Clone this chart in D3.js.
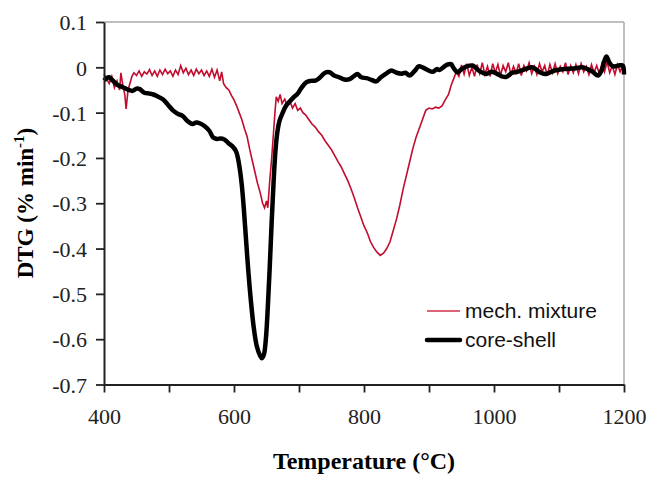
<!DOCTYPE html>
<html>
<head>
<meta charset="utf-8">
<script src="https://cdn.jsdelivr.net/npm/d3@7"></script>
<style>
  body { margin: 0; background: #fff; }
  svg { display: block; }
</style>
</head>
<body>
<svg id="chart" width="650" height="477"></svg>
<script>
// tick values
var xTicks = [400, 500, 600, 700, 800, 900, 1000, 1100, 1200];
var xLabels = [400, 600, 800, 1000, 1200];
var yTicks = [0.1, 0, -0.1, -0.2, -0.3, -0.4, -0.5, -0.6, -0.7];

// mech. mixture (thin red, noisy)
var mixTemp = [400,404,408,412,416,420,424,426,429,432,434,437,440,443,446,450,454,458,462,466,
  470,474,478,482,486,490,494,498,502,506,510,514,518,522,526,530,534,538,542,546,
  550,554,558,562,566,570,574,578,581,584,588,592,596,600,604,608,612,616,620,624,
  628,632,636,640,644,647,650,652,655,658,661,663,665,668,671,674,678,682,686,690,
  694,698,702,706,710,715,720,725,730,735,740,745,750,755,760,765,770,775,780,785,
  790,795,800,805,810,815,820,825,830,835,840,845,850,855,860,865,870,875,880,885,
  890,895,900,905,910,915,920,925,930,934,938,942,946,950,954,958,962,966,970,974,
  978,982,986,990,994,998,1002,1006,1010,1014,1018,1022,1026,1030,1034,1038,1042,1046,1050,1054,
  1058,1062,1066,1070,1074,1078,1082,1086,1090,1094,1098,1102,1106,1110,1114,1118,1122,1126,1130,1134,
  1138,1142,1146,1150,1154,1158,1162,1166,1170,1174,1178,1182,1186,1190,1194,1198,1200];
var mixDtg = [-0.015,-0.025,-0.036,-0.02,-0.045,-0.03,-0.05,-0.012,-0.04,-0.06,-0.092,-0.05,-0.035,-0.02,-0.012,-0.018,-0.008,-0.02,-0.01,-0.015,
  -0.005,-0.018,-0.008,-0.02,-0.006,-0.016,-0.004,-0.014,-0.008,-0.02,-0.006,-0.016,0.004,-0.012,-0.002,-0.016,-0.006,-0.018,-0.004,-0.014,
  -0.006,-0.018,-0.008,-0.02,-0.004,-0.022,-0.006,-0.03,-0.01,-0.036,-0.045,-0.05,-0.062,-0.072,-0.085,-0.1,-0.115,-0.135,-0.152,-0.18,
  -0.205,-0.23,-0.255,-0.275,-0.3,-0.31,-0.295,-0.31,-0.25,-0.2,-0.14,-0.1,-0.065,-0.075,-0.06,-0.08,-0.07,-0.085,-0.075,-0.09,
  -0.08,-0.095,-0.09,-0.1,-0.105,-0.115,-0.125,-0.132,-0.142,-0.15,-0.162,-0.172,-0.182,-0.195,-0.208,-0.22,-0.235,-0.25,-0.268,-0.288,
  -0.31,-0.33,-0.35,-0.365,-0.385,-0.398,-0.408,-0.415,-0.41,-0.4,-0.385,-0.36,-0.335,-0.305,-0.27,-0.24,-0.21,-0.18,-0.155,-0.135,
  -0.115,-0.095,-0.09,-0.092,-0.088,-0.09,-0.085,-0.072,-0.06,-0.04,-0.025,-0.01,-0.02,0.005,-0.015,0.008,-0.018,0.0,-0.02,0.006,
  -0.014,0.01,-0.016,0.002,-0.02,0.008,-0.012,0.006,-0.018,0.004,-0.01,0.01,-0.016,0.002,-0.012,0.008,-0.018,0.004,-0.008,0.01,
  -0.014,0.002,-0.016,0.008,-0.01,0.004,-0.018,0.006,-0.012,0.008,-0.014,0.002,-0.01,0.01,-0.016,0.004,-0.012,0.006,-0.014,0.008,
  -0.01,0.002,-0.016,0.006,-0.012,0.004,-0.014,0.008,-0.01,0.012,-0.012,0.004,-0.016,0.006,-0.01,0.004,-0.006];

// core-shell (thick black)
var csTemp = [400,404,408,414,420,426,432,438,444,450,455,462,470,476,482,490,498,506,514,521,
  528,536,542,548,555,562,568,574,580,586,592,598,603,606,609,612,615,618,621,625,
  630,635,640,643,646,649,652,655,658,661,664,667,670,675,680,686,692,698,704,711,
  718,726,734,740,747,754,762,770,778,784,790,796,804,812,819,826,834,842,850,858,
  864,870,878,884,890,898,906,912,916,922,928,934,938,944,950,958,967,974,980,988,
  996,1004,1012,1019,1028,1036,1044,1052,1059,1066,1072,1080,1088,1096,1106,1116,1126,1136,1144,1152,
  1160,1166,1170,1173,1177,1181,1186,1192,1198,1200];
var csDtg = [-0.029,-0.024,-0.022,-0.03,-0.038,-0.042,-0.046,-0.05,-0.052,-0.047,-0.048,-0.056,-0.058,-0.06,-0.064,-0.07,-0.082,-0.095,-0.103,-0.107,
  -0.118,-0.125,-0.122,-0.124,-0.13,-0.14,-0.155,-0.158,-0.157,-0.16,-0.168,-0.175,-0.185,-0.2,-0.225,-0.26,-0.31,-0.37,-0.43,-0.5,
  -0.57,-0.615,-0.636,-0.642,-0.634,-0.6,-0.53,-0.44,-0.34,-0.25,-0.18,-0.14,-0.118,-0.1,-0.085,-0.075,-0.066,-0.058,-0.045,-0.033,
  -0.03,-0.029,-0.02,-0.012,-0.011,-0.018,-0.022,-0.027,-0.026,-0.02,-0.015,-0.022,-0.024,-0.028,-0.031,-0.022,-0.014,-0.007,-0.012,-0.014,
  -0.012,-0.018,-0.008,0.002,0.0,-0.006,-0.01,-0.004,-0.006,0.0,0.006,0.007,-0.002,-0.011,-0.004,0.002,0.004,-0.004,-0.01,-0.015,
  -0.01,-0.014,-0.02,-0.021,-0.012,-0.01,-0.006,-0.002,0.0,-0.006,-0.012,-0.015,-0.01,-0.006,-0.004,-0.003,-0.002,0.0,-0.004,-0.01,
  -0.018,-0.005,0.015,0.024,0.012,0.004,0.002,0.004,0.004,-0.016];

var width = 650, height = 477;
var plotLeft = 104, plotRight = 624, plotTop = 22, plotBottom = 384.5;

var svg = d3.select('#chart');

var x = d3.scaleLinear().domain([400, 1200]).range([plotLeft, plotRight]);
var y = d3.scaleLinear().domain([-0.7, 0.1]).range([plotBottom, plotTop]);

// grey frame top/right
svg.append('line')
  .attr('x1', plotLeft).attr('x2', plotRight).attr('y1', plotTop).attr('y2', plotTop)
  .attr('stroke', '#aaa').attr('stroke-width', 1.5);
svg.append('line')
  .attr('x1', plotRight).attr('x2', plotRight).attr('y1', plotTop).attr('y2', plotBottom)
  .attr('stroke', '#aaa').attr('stroke-width', 1.5);

// lines
var mix = mixTemp.map(function(t, i) { return [t, mixDtg[i]]; });
var cs = csTemp.map(function(t, i) { return [t, csDtg[i]]; });

var line = d3.line()
  .x(function(d) { return x(d[0]); })
  .y(function(d) { return y(d[1]); });

svg.append('path')
  .datum(mix)
  .attr('d', line)
  .attr('fill', 'none')
  .attr('stroke', '#c20c2e')
  .attr('stroke-width', 1.6);

var smooth = d3.line()
  .x(function(d) { return x(d[0]); })
  .y(function(d) { return y(d[1]); })
  .curve(d3.curveCatmullRom);

svg.append('path')
  .datum(cs)
  .attr('d', smooth)
  .attr('fill', 'none')
  .attr('stroke', '#000')
  .attr('stroke-width', 4.5)
  .attr('stroke-linejoin', 'round');

// axes
var xAxis = svg.append('g')
  .attr('transform', 'translate(0,' + plotBottom + ')')
  .call(d3.axisBottom(x).tickValues(xTicks).tickSize(8).tickSizeOuter(0)
    .tickFormat(function(d) { return xLabels.indexOf(d) >= 0 ? d : ''; }));

var yAxis = svg.append('g')
  .attr('transform', 'translate(' + plotLeft + ',0)')
  .call(d3.axisLeft(y).tickValues(yTicks).tickSize(8).tickSizeOuter(0)
    .tickFormat(function(d) { return d === 0 ? '0' : d3.format('.1f')(d).replace('−', '-'); }));

[xAxis, yAxis].forEach(function(g) {
  g.select('.domain').attr('stroke', '#222').attr('stroke-width', 2);
  g.selectAll('.tick line').attr('stroke', '#222').attr('stroke-width', 1.8);
  g.selectAll('.tick text')
    .attr('fill', '#222')
    .style('font-family', '"Liberation Serif", "Times New Roman", serif')
    .style('font-size', '22px');
});
xAxis.selectAll('.tick text').attr('dy', '1.3em');
yAxis.selectAll('.tick text').attr('x', -17).attr('dy', '0.35em');

// axis titles
svg.append('text')
  .attr('x', 364).attr('y', 469)
  .attr('text-anchor', 'middle')
  .style('font-family', '"Liberation Serif", "Times New Roman", serif')
  .style('font-weight', 'bold')
  .style('font-size', '24px')
  .text('Temperature (°C)');

var yt = svg.append('text')
  .attr('transform', 'translate(33,203) rotate(-90)')
  .attr('text-anchor', 'middle')
  .style('font-family', '"Liberation Serif", "Times New Roman", serif')
  .style('font-weight', 'bold')
  .style('font-size', '23px');
yt.append('tspan').text('DTG (% min');
yt.append('tspan').attr('dy', -9).style('font-size', '15px').text('-1');
yt.append('tspan').attr('dy', 9).text(')');

// legend
var legendNames = ['mech. mixture', 'core-shell'];
var legendColors = ['#d0304a', '#000'];
var legendWidths = [1.6, 4.5];
var leg = svg.append('g');
legendNames.forEach(function(name, i) {
  var ly = 311 + i * 29;
  leg.append('line')
    .attr('x1', 427).attr('x2', 460).attr('y1', ly).attr('y2', ly)
    .attr('stroke', legendColors[i]).attr('stroke-width', legendWidths[i])
    .attr('stroke-linecap', i === 1 ? 'round' : 'butt');
  leg.append('text')
    .attr('x', 465).attr('y', ly + 7)
    .style('font-family', '"Liberation Sans", Arial, sans-serif')
    .style('font-size', '21px')
    .attr('fill', '#111')
    .text(name);
});
</script>
</body>
</html>
